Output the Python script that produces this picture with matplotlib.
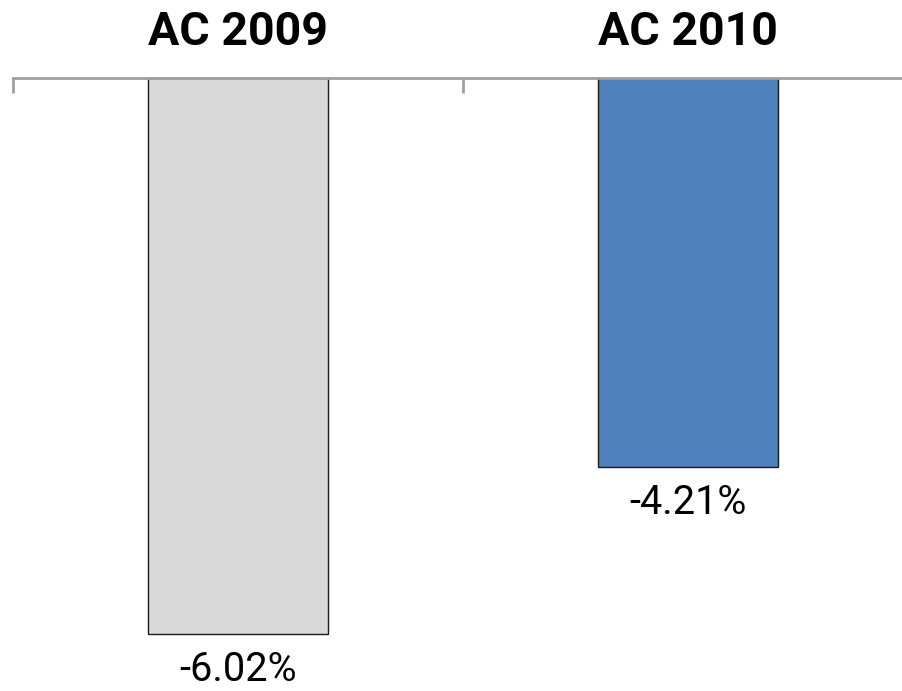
import matplotlib
matplotlib.use("Agg")
import matplotlib.pyplot as plt
import matplotlib.transforms as mtrans

categories = ["AC 2009", "AC 2010"]
values = [-6.02, -4.21]
value_labels = ["-6.02%", "-4.21%"]
colors = ["#D9D9D9", "#4F81BD"]

W, H, DPI = 903, 691, 100
fig = plt.figure(figsize=(W / DPI, H / DPI), dpi=DPI)
ax_top = 77.5
ax = fig.add_axes([13 / W, 0, 900 / W, (H - ax_top) / H])

x = list(range(len(categories)))
ax.bar(x, values, width=0.4, color=colors, edgecolor="#1a1a1a", linewidth=1.0, zorder=2)

ax.set_xlim(-0.5, len(categories) - 0.5)
ax.set_ylim(-(H - ax_top) / 92.4, 0)

for s in ["left", "right", "bottom"]:
    ax.spines[s].set_visible(False)
ax.spines["top"].set_color("#A0A0A0")
ax.spines["top"].set_linewidth(2.0)
ax.set_yticks([])
ax.xaxis.tick_top()
ax.set_xticks([i - 0.5 for i in range(len(categories) + 1)])
ax.set_xticklabels([])
ax.tick_params(axis="x", direction="in", length=11, width=2.0, color="#A0A0A0")

trans = mtrans.blended_transform_factory(ax.transData, ax.transAxes)
for i, c in enumerate(categories):
    ax.annotate(c, xy=(i, 1), xycoords=trans, xytext=(0, 32.5 * 0.72),
                textcoords="offset points", ha="center", va="baseline",
                fontsize=33.5, fontweight="bold", family="Roboto", color="black",
                annotation_clip=False)

for i, (v, lab) in enumerate(zip(values, value_labels)):
    ax.annotate(lab, xy=(i, v), xytext=(0, -47 * 0.72), textcoords="offset points",
                ha="center", va="baseline", fontsize=28.5, family="Roboto",
                color="black", annotation_clip=False)

fig.savefig("out.png", dpi=DPI)
